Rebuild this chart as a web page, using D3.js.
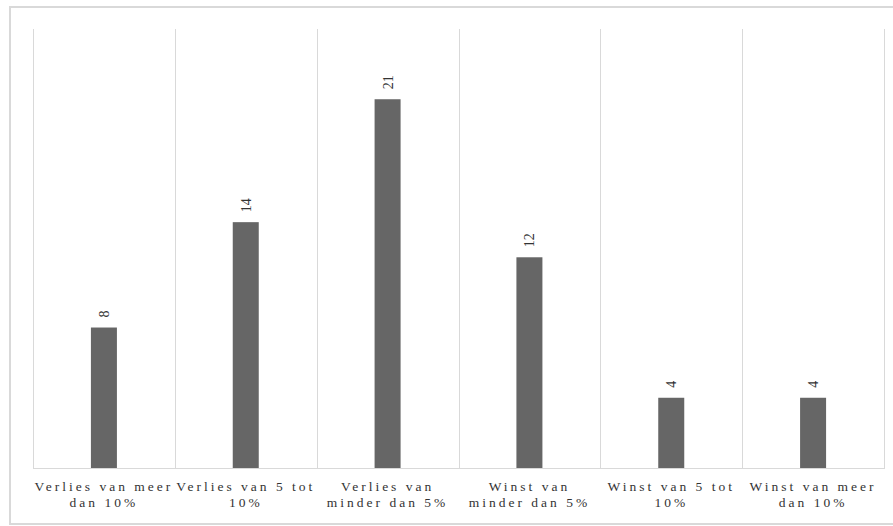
<!DOCTYPE html>
<html><head><meta charset="utf-8">
<script src="https://cdn.jsdelivr.net/npm/d3@7"></script>
<style>html,body{margin:0;padding:0;background:#fff;}
text{font-family:"Liberation Serif","Times New Roman",Times,"DejaVu Serif",serif;}</style>
</head><body>
<svg id="c" width="893" height="526"></svg>
<script>
const categories = ["Verlies van meer dan 10%","Verlies van 5 tot 10%","Verlies van minder dan 5%","Winst van minder dan 5%","Winst van 5 tot 10%","Winst van meer dan 10%"];
const categoryLines = [["Verlies van meer","dan 10%"],["Verlies van 5 tot","10%"],["Verlies van","minder dan 5%"],["Winst van","minder dan 5%"],["Winst van 5 tot","10%"],["Winst van meer","dan 10%"]];
const values = [8,14,21,12,4,4];
const yDomain = [0,25];

const svg = d3.select("#c");
const plotLeft = 33, plotRight = 884, plotTop = 29, plotBottom = 468;
const x = d3.scaleBand().domain(categories).range([plotLeft,plotRight]).padding(0);
const y = d3.scaleLinear().domain(yDomain).range([plotBottom,plotTop]);
const grid = "#d9d9d9";

// outer border
svg.append("rect").attr("x",10).attr("y",7).attr("width",895).attr("height",517)
  .attr("fill","none").attr("stroke",grid).attr("stroke-width",2);

// vertical gridlines between categories
const bounds = categories.map(c=>x(c)).concat([plotRight]);
svg.selectAll("line.g").data(bounds).join("line").attr("class","g")
  .attr("x1",d=>Math.round(d)+0.5).attr("x2",d=>Math.round(d)+0.5)
  .attr("y1",y(yDomain[1])).attr("y2",y(0))
  .attr("stroke",grid).attr("stroke-width",1);

// baseline
svg.append("line").attr("x1",plotLeft).attr("x2",plotRight+1).attr("y1",y(0)+0.5).attr("y2",y(0)+0.5)
  .attr("stroke",grid).attr("stroke-width",1);

const bw = 26;
svg.selectAll("rect.b").data(values).join("rect").attr("class","b")
  .attr("x",(d,i)=>x(categories[i])+x.bandwidth()/2-bw/2)
  .attr("width",bw)
  .attr("y",d=>y(d)).attr("height",d=>y(0)-y(d))
  .attr("fill","#666666");

// value labels rotated
svg.selectAll("text.v").data(values).join("text").attr("class","v")
  .attr("transform",(d,i)=>`translate(${x(categories[i])+x.bandwidth()/2+5},${y(d)-10}) rotate(-90)`)
  .attr("text-anchor","start")
  .attr("font-size",14)
  .attr("fill","#333")
  .text(d=>d);

// category labels
const lab = svg.selectAll("text.c").data(categoryLines).join("text").attr("class","c")
  .attr("x",(d,i)=>x(categories[i])+x.bandwidth()/2)
  .attr("y",491)
  .attr("text-anchor","middle")
  .attr("font-size",13.5)
  .attr("letter-spacing","3px")
  .attr("fill","#333");
lab.selectAll("tspan").data(d=>d).join("tspan")
  .attr("x",function(){return this.parentNode.getAttribute("x");})
  .attr("dy",(d,i)=>i===0?0:16)
  .text(d=>d);
</script>
</body></html>
